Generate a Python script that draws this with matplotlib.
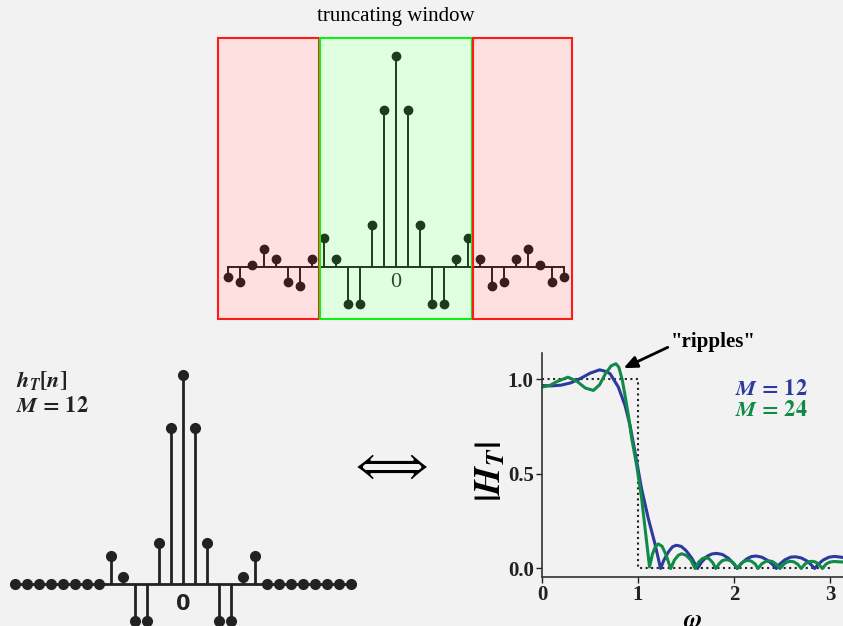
import numpy as np
import matplotlib
matplotlib.use("Agg")
import matplotlib.pyplot as plt
from matplotlib.patches import Rectangle

plt.rcParams['mathtext.fontset'] = 'stix'

#------------------- DATA -------------------
# sinc samples for n = 0..14, normalised to peak (symmetric about 0)
n_half = [0, 1, 2, 3, 4, 5, 6, 7, 8, 9, 10, 11, 12, 13, 14]
h_half = [1.0, 0.744, 0.198, -0.177, -0.178, 0.035, 0.136, 0.038,
          -0.090, -0.074, 0.038, 0.085, 0.008, -0.074, -0.047]
M_half = 6   # |n| <= 6 survives the truncating window

# magnitude response |H_T(w)|, M = 12
w_m12 = [0.00, 0.10, 0.20, 0.30, 0.40, 0.50, 0.60, 0.67, 0.71, 0.795, 0.865, 0.917,
         0.969, 1.038, 1.108, 1.177, 1.235,
         1.27, 1.32, 1.36, 1.40, 1.45, 1.50, 1.56, 1.62,
         1.66, 1.72, 1.77, 1.82, 1.88, 1.94, 1.99, 2.035,
         2.08, 2.13, 2.18, 2.23, 2.29, 2.35, 2.40, 2.44,
         2.48, 2.53, 2.59, 2.64, 2.70, 2.76, 2.80, 2.84,
         2.88, 2.93, 2.99, 3.05, 3.1416]
H_m12 = [0.968, 0.966, 0.970, 0.982, 1.005, 1.033, 1.051, 1.042, 1.030, 0.960, 0.862, 0.757,
         0.615, 0.420, 0.263, 0.130, 0.0,
         0.045, 0.090, 0.115, 0.123, 0.117, 0.095, 0.055, 0.0,
         0.032, 0.065, 0.077, 0.080, 0.074, 0.055, 0.030, 0.0,
         0.028, 0.050, 0.063, 0.066, 0.060, 0.043, 0.022, 0.0,
         0.025, 0.046, 0.060, 0.062, 0.056, 0.040, 0.022, 0.0,
         0.024, 0.045, 0.060, 0.064, 0.058]

# magnitude response |H_T(w)|, M = 24
w_m24 = [0.00, 0.08, 0.16, 0.27, 0.36, 0.45, 0.535, 0.60, 0.66, 0.72, 0.77, 0.80, 0.835,
         0.865, 0.90, 0.934, 0.986, 1.038, 1.09, 1.12,
         1.15, 1.18, 1.21, 1.25, 1.29, 1.34,
         1.38, 1.42, 1.455, 1.50, 1.55, 1.594,
         1.63, 1.67, 1.70, 1.74, 1.78, 1.81,
         1.85, 1.88, 1.92, 1.96, 2.00, 2.035,
         2.07, 2.11, 2.145, 2.18, 2.22, 2.25,
         2.29, 2.33, 2.365, 2.40, 2.44, 2.48,
         2.52, 2.555, 2.59, 2.625, 2.665, 2.70,
         2.74, 2.775, 2.81, 2.845, 2.885, 2.92,
         2.96, 3.00, 3.04, 3.1416]
H_m24 = [0.960, 0.968, 0.990, 1.012, 0.992, 0.955, 0.942, 0.972, 1.030, 1.072, 1.083, 1.065, 1.000,
         0.915, 0.810, 0.690, 0.545, 0.370, 0.140, 0.008,
         0.075, 0.115, 0.130, 0.118, 0.075, 0.0,
         0.045, 0.070, 0.078, 0.070, 0.045, 0.0,
         0.033, 0.052, 0.058, 0.052, 0.030, 0.0,
         0.028, 0.042, 0.047, 0.042, 0.026, 0.0,
         0.025, 0.039, 0.043, 0.039, 0.024, 0.0,
         0.025, 0.037, 0.040, 0.037, 0.023, 0.0,
         0.024, 0.035, 0.038, 0.035, 0.022, 0.0,
         0.024, 0.035, 0.038, 0.035, 0.022, 0.0,
         0.024, 0.034, 0.037, 0.034]

# ideal low-pass (dotted)
w_ideal = [0, 1, 1, 3]
H_ideal = [1, 1, 0, 0]

x_ticks = [0, 1, 2, 3]
y_ticks = [0.0, 0.5, 1.0]
y_ticklabels = ['0.0', '0.5', '1.0']

BG = '#f2f2f2'
BLUE = '#2b3a9c'
GREEN = '#0f8a47'
INK = '#222222'

#--------------------------------------------------------------------
n_full = np.array([-k for k in n_half[:0:-1]] + n_half)
h_full = np.array(h_half[:0:-1] + h_half)
ht_full = np.where(np.abs(n_full) <= M_half, h_full, 0.0)

W, H = 843, 626
fig = plt.figure(figsize=(W / 100, H / 100), dpi=100, facecolor=BG)

def px_axes(left, top, right, bottom):
    return fig.add_axes([left / W, 1 - bottom / H, (right - left) / W, (bottom - top) / H])

#------------------- top: sinc with truncating window -------------------
ax_top = px_axes(216, 34.9, 576, 329.9)
ax_top.set_xlim(-15, 15)
ax_top.set_ylim(-0.3, 1.1)
ax_top.axis('off')
ml, sl, bl = ax_top.stem(n_full, h_full, basefmt='-')
plt.setp(sl, color=INK, linewidth=1.4)
plt.setp(ml, color=INK, markersize=6)
plt.setp(bl, color=INK, linewidth=1.4)
ax_top.text(0, -0.03, '0', ha='center', va='top', fontsize=16,
            family='Liberation Serif', color='#333333')
# white underlay, then a light tint over the stems
for x0, x1, fc, ec in [(-14.8, -6.44, '#ff0000', '#ff1a1a'),
                       (-6.33, 6.33, '#00ff00', '#11ee11'),
                       (6.44, 14.7, '#ff0000', '#ff1a1a')]:
    ax_top.add_patch(Rectangle((x0, -0.248), x1 - x0, 1.332, facecolor='white',
                               edgecolor='none', zorder=0, clip_on=False))
    ax_top.add_patch(Rectangle((x0, -0.248), x1 - x0, 1.332, facecolor=fc, alpha=0.12,
                               edgecolor='none', zorder=5, clip_on=False))
    ax_top.add_patch(Rectangle((x0, -0.248), x1 - x0, 1.332, facecolor='none',
                               edgecolor=ec, linewidth=1.5, zorder=6, clip_on=False))
fig.text(396 / W, 1 - 17 / H, 'truncating window', ha='center', va='center',
         fontsize=15, family='Liberation Serif')

#------------------- bottom left: truncated h_T[n] -------------------
ax_h = px_axes(3.3, 353.8, 363.3, 636.3)
ax_h.set_xlim(-15, 15)
ax_h.set_ylim(-0.25, 1.1)
ax_h.axis('off')
ml, sl, bl = ax_h.stem(n_full, ht_full, basefmt='-')
plt.setp(sl, color=INK, linewidth=2.0)
plt.setp(ml, color=INK, markersize=7)
plt.setp(bl, color=INK, linewidth=2.0)
ax_h.text(0, -0.05, '0', ha='center', va='top', fontsize=15, fontweight='bold',
          family='DejaVu Sans', color=INK)
fig.text(16 / W, 1 - 381 / H, r'$\mathbfit{h}_{\mathbfit{T}}\mathbf{[}\mathbfit{n}\mathbf{]}$',
         ha='left', va='center', fontsize=16, color=INK)
fig.text(16 / W, 1 - 406 / H, r'$\mathbfit{M}\,\mathbf{=}\,\mathbf{12}$',
         ha='left', va='center', fontsize=16, color=INK)

# equivalence arrow
fig.text(387 / W, 1 - 466 / H, r'$\Longleftrightarrow$', ha='center', va='center',
         fontsize=34, color='black', math_fontfamily='cm')

#------------------- bottom right: |H_T| -------------------
ax = px_axes(542, 353, 542 + np.pi * 96, 577)
ax.set_facecolor('none')
ax.set_xlim(0, np.pi)
ax.set_ylim(-0.045, 1.14)
ax.plot(w_ideal, H_ideal, color='#222222', linestyle=':', linewidth=1.5)
ax.plot(w_m12, H_m12, color=BLUE, linewidth=2.2, solid_joinstyle='round')
ax.plot(w_m24, H_m24, color=GREEN, linewidth=2.2, solid_joinstyle='round')
for s in ['top', 'right']:
    ax.spines[s].set_visible(False)
for s in ['left', 'bottom']:
    ax.spines[s].set_linewidth(1.2)
    ax.spines[s].set_color('#333333')
tick_font = dict(fontsize=15, fontweight='bold', family='Liberation Serif')
ax.set_xticks(x_ticks, labels=[str(t) for t in x_ticks], **tick_font)
ax.set_yticks(y_ticks, labels=y_ticklabels, **tick_font)
ax.tick_params(length=4, width=1, colors='#222222', pad=2)
ax.set_xlabel(r'$\mathbfit{\omega}$', fontsize=18, labelpad=2)
ax.set_ylabel(r'$\mathbf{|}\mathbfit{H}_{\mathbfit{T}}\mathbf{|}$', fontsize=26)
ax.yaxis.set_label_coords(-0.115, 0.47)
ax.text(2.01, 0.952, r'$\mathbfit{M}\,\mathbf{=}\,\mathbf{12}$', color=BLUE, fontsize=16,
        va='center', ha='left')
ax.text(2.01, 0.836, r'$\mathbfit{M}\,\mathbf{=}\,\mathbf{24}$', color=GREEN, fontsize=16,
        va='center', ha='left')
ax.text(1.78, 1.196, '"ripples"', fontsize=15, fontweight='bold', family='Liberation Serif',
        ha='center', va='center', clip_on=False)
ax.annotate('', xy=(0.85, 1.06), xytext=(1.31, 1.17), annotation_clip=False,
            arrowprops=dict(arrowstyle='-|>,head_length=0.8,head_width=0.35',
                            color='black', lw=2, shrinkA=0, shrinkB=0))

fig.savefig('out.png', dpi=100, facecolor=BG)
